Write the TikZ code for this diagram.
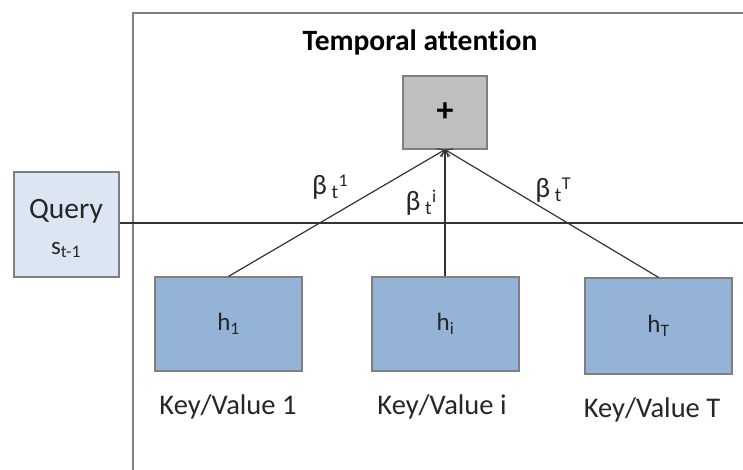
\documentclass[tikz,border=0pt]{standalone}
\usepackage{fontspec}
\setmainfont{Carlito}[Ligatures={NoCommon}]
\usetikzlibrary{arrows.meta}
\definecolor{keyblue}{HTML}{95B3D7}
\definecolor{qblue}{HTML}{DCE6F2}
\definecolor{plusgray}{HTML}{BFBFBF}
\definecolor{edgegray}{HTML}{7F7F7F}
\definecolor{linedark}{HTML}{333333}
\tikzset{
  keybox/.style={draw=edgegray, line width=1.2pt, fill=keyblue, minimum width=147pt, minimum height=94pt, inner sep=0pt, font=\fontsize{25}{28}\selectfont, text=black!85},
  qbox/.style={draw=edgegray, line width=1.2pt, fill=qblue, minimum width=105pt, minimum height=105pt, inner sep=0pt},
  plusbox/.style={draw=edgegray, line width=1.2pt, fill=plusgray, minimum width=84pt, minimum height=73pt, inner sep=0pt, font=\fontsize{34}{36}\selectfont\bfseries},
  lbl/.style={font=\fontsize{28.5}{30}\selectfont, text=black!85, inner sep=0pt},
  blbl/.style={font=\fontsize{28}{30}\selectfont, text=black!85, inner sep=0pt},
  conn/.style={draw=linedark, line width=1.2pt, -{Straight Barb[length=6pt,width=10pt,line width=1pt]}},
  frame/.style={draw=edgegray, line width=1.5pt}
}
\newcommand{\supr}[1]{\raisebox{0.3em}{\fontsize{18}{20}\selectfont #1}}
\begin{document}
\begin{tikzpicture}[x=1pt,y=-1pt]
\useasboundingbox (0,0) rectangle (743,470);
\fill[white] (0,0) rectangle (743,470);
% frame
\coordinate (fbl) at (133,471);
\coordinate (ftl) at (133,13);
\coordinate (ftr) at (744,13);
\draw[frame] (fbl) -- (ftl) -- (ftr);
\node[font=\fontsize{29.5}{32}\selectfont\bfseries, inner sep=0pt] (title) at (420,42) {Temporal attention};
% query
\node[qbox] (q) at (66.5,224.5) {};
\node[font=\fontsize{29.5}{32}\selectfont, text=black!85, inner sep=0pt] (qt) at (66,211) {Query};
\node[font=\fontsize{25}{28}\selectfont, text=black!85, inner sep=0pt] (qs) at (66,250) {s\textsubscript{t-1}};
\coordinate (hend) at (744,223);
\draw[draw=linedark, line width=1.1pt] (q.east |- hend) -- (hend);
% plus
\node[plusbox] (plus) at (445,112.5) {+};
% keys
\node[keybox] (k1) at (228.5,324) {h\textsubscript{1}};
\node[keybox] (ki) at (445.5,324) {h\textsubscript{i}};
\node[keybox, minimum height=96pt] (kT) at (658.5,326) {h\textsubscript{T}};
\node[lbl] (l1) at (228,407) {Key/Value 1};
\node[lbl] (li) at (442,407) {Key/Value i};
\node[lbl] (lT) at (652,410) {Key/Value T};
% connectors
\draw[conn] (k1.north) -- (plus.south);
\draw[conn] (ki.north -| plus.south) -- (plus.south);
\draw[conn] (kT.north) -- (plus.south);
% weights
\node[blbl] (b1) at (330,187) {β\,\textsubscript{t}\supr{1}};
\node[blbl] (bi) at (421,203) {β\,\textsubscript{t}\supr{i}};
\node[blbl] (bT) at (553,190) {β\,\textsubscript{t}\supr{T}};
\end{tikzpicture}
\end{document}
